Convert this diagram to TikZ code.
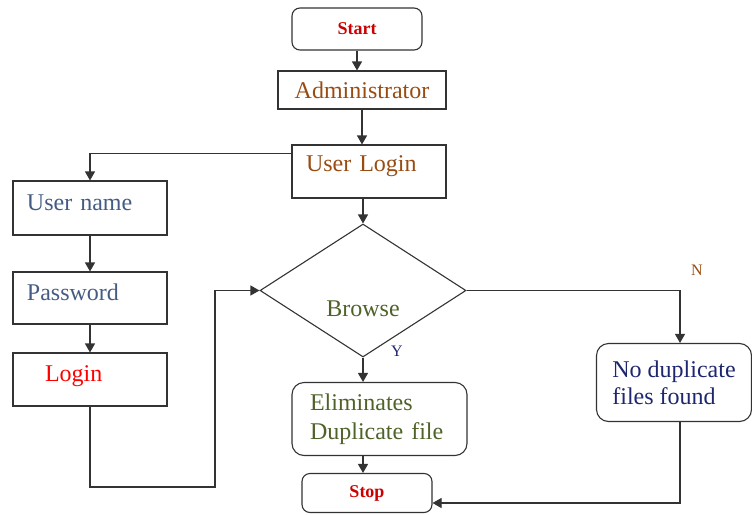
\documentclass[tikz,border=0pt]{standalone}
\usepackage{fontspec}
\setmainfont{Liberation Serif}
\usepackage{tikz}
\usetikzlibrary{arrows.meta,shapes.geometric}
\definecolor{StopRed}{RGB}{204,0,0}
\definecolor{AdminBrown}{RGB}{152,76,18}
\definecolor{SlateBlue}{RGB}{68,92,132}
\definecolor{LoginRed}{RGB}{255,0,0}
\definecolor{Olive}{RGB}{79,98,40}
\definecolor{NavyText}{RGB}{30,38,110}

\begin{document}
\begin{tikzpicture}[-{Triangle[length=9pt,width=10pt]}, x=1pt, y=-1pt, line width=1.1pt, draw=black!80]
   \useasboundingbox (0,0) rectangle (752,514);
   \tikzstyle{main}=[rectangle, draw=black!80, inner xsep=14pt, inner ysep=0pt, font=\fontsize{24}{29}\selectfont]
   \tikzstyle{term}=[main, rounded corners=8pt, text=StopRed, minimum width=130pt, font=\fontsize{18}{20}\selectfont\bfseries]
   \tikzstyle{lefty}=[main, minimum width=154pt, text width=126pt, align=left, text=SlateBlue, text depth=11pt]
   \tikzstyle{tag}=[font=\fontsize{16}{18}\selectfont]
   \node[term, minimum height=42pt] (start) at (357,29) {Start};
   \node[main, minimum width=168pt, minimum height=38pt, text depth=0pt, text=AdminBrown] (admin) at (362,90) {Administrator};
   \node[lefty, minimum height=53pt, text depth=16pt, text=AdminBrown] (ulogin) at (369,171.5) {User Login};
   \node[lefty, minimum height=54pt] (uname) at (90,208) {User name};
   \node[lefty, minimum height=52pt] (pass) at (90,298) {Password};
   \node[lefty, minimum height=53pt, inner xsep=32pt, text width=90pt, text=LoginRed] (login) at (90,379.5) {Login};
   \node[diamond, draw=black!80, minimum width=206pt, minimum height=133pt, inner sep=0pt,
         label={[name=browsetxt, text=Olive, font=\fontsize{24}{29}\selectfont, yshift=-18pt]center:Browse}] (browse) at (363,290.5) {};
   \node[main, rounded corners=12pt, minimum height=73pt, inner xsep=18pt, text width=139pt, align=left, text=Olive] (elim) at (379.5,419) {Eliminates\\Duplicate file};
   \node[main, rounded corners=12pt, minimum width=155pt, minimum height=78pt, align=left, text=NavyText,
         font=\fontsize{24}{27}\selectfont, text depth=0pt] (nodup) at (674,382.5) {No duplicate\\files found};
   \node[term, minimum height=39pt] (stop) at (367,493) {Stop};
   \node[tag, text=NavyText] (ylab) at (397,351) {Y};
   \node[tag, text=AdminBrown] (nlab) at (697,270) {N};
   \coordinate (c1) at (215,487);
   % main column
   \path (start.south) edge (start.south |- admin.north);
   \path (admin.south) edge (admin.south |- ulogin.north);
   \path (browse.north |- ulogin.south) edge (browse.north);
   \path (browse.south) edge (browse.south |- elim.north);
   \path (browse.south |- elim.south) edge (browse.south |- stop.north);
   % left column
   \draw ([yshift=18pt]ulogin.west) -| (uname.north);
   \path (uname) edge (pass);
   \path (pass) edge (login);
   \draw (login.south) |- (c1) |- (browse.west);
   % no branch
   \draw (browse.east) -| ([xshift=6pt]nodup.north);
   \draw ([xshift=6pt]nodup.south) |- ([yshift=-10pt]stop.east);
\end{tikzpicture}
\end{document}
